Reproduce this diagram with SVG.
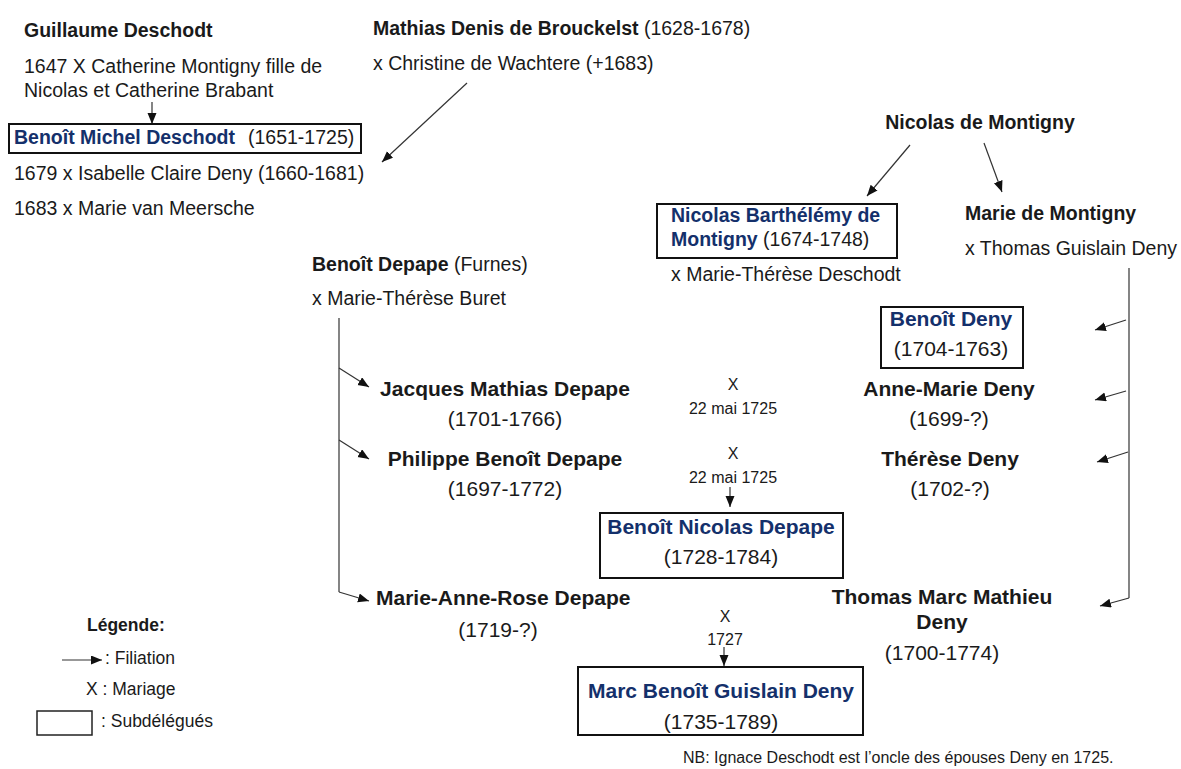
<svg xmlns="http://www.w3.org/2000/svg" width="1181" height="769" viewBox="0 0 1181 769">
<defs>
<marker id="ah" markerUnits="userSpaceOnUse" markerWidth="12" markerHeight="10" refX="11" refY="4.5" orient="auto">
<path d="M0,0 L11,4.5 L0,9 z" fill="#111"/>
</marker>
<style>
text{font-family:"Liberation Sans",Arial,sans-serif;fill:#1a1a1a}
.b{font-weight:bold}
.n{fill:#14306b;font-weight:bold}
.s{font-size:19.5px}
.m{font-size:21px}
.c{text-anchor:middle}
.sm{font-size:16px}
.lg{font-size:17.5px}
.box{fill:none;stroke:#111;stroke-width:2}
.ln{fill:none;stroke:#333;stroke-width:1.2}
.ar{fill:none;stroke:#333;stroke-width:1.2;marker-end:url(#ah)}
</style>
</defs>
<rect width="1181" height="769" fill="#fff"/>

<g id="connectors">
<line class="ar" x1="152" y1="102" x2="152" y2="124"/>
<line class="ar" x1="467" y1="83" x2="382" y2="162"/>
<line class="ar" x1="910" y1="145" x2="867" y2="196"/>
<line class="ar" x1="984" y1="143" x2="1002" y2="192"/>
<polyline class="ln" points="1129,268 1129,598"/>
<line class="ar" x1="1126" y1="320" x2="1095" y2="330"/>
<line class="ar" x1="1126" y1="391" x2="1095" y2="400"/>
<line class="ar" x1="1128" y1="452" x2="1097" y2="462"/>
<line class="ar" x1="1129" y1="598" x2="1100" y2="606"/>
<polyline class="ln" points="339,318 339,592"/>
<line class="ar" x1="339" y1="368" x2="369" y2="387"/>
<line class="ar" x1="339" y1="440" x2="369" y2="459"/>
<line class="ar" x1="339" y1="592" x2="369" y2="601"/>
<line class="ar" x1="730" y1="487" x2="730" y2="507"/>
<line class="ar" x1="724" y1="647" x2="724" y2="666"/>
</g>

<g id="guillaume">
<text class="b s" x="24" y="37">Guillaume Deschodt</text>
<text class="s" x="24" y="73">1647 X Catherine Montigny fille de</text>
<text class="s" x="24" y="97">Nicolas et Catherine Brabant</text>
</g>

<g id="benoit-michel">
<rect class="box" x="9" y="124" width="352" height="29"/>
<text class="s" x="14" y="144"><tspan class="n">Benoît Michel Deschodt</tspan><tspan x="248">(1651-1725)</tspan></text>
<text class="s" x="14" y="180">1679 x Isabelle Claire Deny (1660-1681)</text>
<text class="s" x="14" y="215">1683 x Marie van Meersche</text>
</g>

<g id="mathias">
<text class="s" x="373" y="35"><tspan class="b">Mathias Denis de Brouckelst</tspan> (1628-1678)</text>
<text class="s" x="373" y="70">x Christine de Wachtere (+1683)</text>
</g>

<g id="nicolas">
<text class="b s c" x="980" y="129">Nicolas de Montigny</text>
</g>

<g id="nicolas-barthelemy">
<rect class="box" x="657" y="204" width="240" height="54"/>
<text class="s n" x="671" y="222">Nicolas Barthélémy de</text>
<text class="s" x="671" y="246"><tspan class="n">Montigny</tspan> (1674-1748)</text>
<text class="s" x="671" y="281">x Marie-Thérèse Deschodt</text>
</g>

<g id="marie-montigny">
<text class="b s" x="965" y="220">Marie de Montigny</text>
<text class="s" x="965" y="255">x Thomas Guislain Deny</text>
</g>

<g id="benoit-depape">
<text class="s" x="312" y="271"><tspan class="b">Benoît Depape</tspan> (Furnes)</text>
<text class="s" x="312" y="305">x Marie-Thérèse Buret</text>
</g>

<g id="benoit-deny">
<rect class="box" x="881" y="307" width="142" height="61"/>
<text class="m n c" x="951" y="326">Benoît Deny</text>
<text class="m c" x="951" y="356">(1704-1763)</text>
</g>

<g id="jacques">
<text class="m b c" x="505" y="396">Jacques Mathias Depape</text>
<text class="m c" x="505" y="426">(1701-1766)</text>
</g>

<g id="mariage1">
<text class="sm c" x="733" y="390">X</text>
<text class="sm c" x="733" y="414">22 mai 1725</text>
</g>

<g id="anne-marie">
<text class="m b c" x="949" y="396">Anne-Marie Deny</text>
<text class="m c" x="949" y="426">(1699-?)</text>
</g>

<g id="philippe">
<text class="m b c" x="505" y="466">Philippe Benoît Depape</text>
<text class="m c" x="505" y="496">(1697-1772)</text>
</g>

<g id="mariage2">
<text class="sm c" x="733" y="459">X</text>
<text class="sm c" x="733" y="483">22 mai 1725</text>
</g>

<g id="therese">
<text class="m b c" x="950" y="466">Thérèse Deny</text>
<text class="m c" x="950" y="496">(1702-?)</text>
</g>

<g id="benoit-nicolas">
<rect class="box" x="600" y="513" width="243" height="65"/>
<text class="m n c" x="721" y="534">Benoît Nicolas Depape</text>
<text class="m c" x="721" y="564">(1728-1784)</text>
</g>

<g id="marie-anne-rose">
<text class="m b" x="376" y="605">Marie-Anne-Rose Depape</text>
<text class="m c" x="498" y="637">(1719-?)</text>
</g>

<g id="mariage3">
<text class="sm c" x="725" y="622">X</text>
<text class="sm c" x="725" y="645">1727</text>
</g>

<g id="thomas-marc">
<text class="m b c" x="942" y="604">Thomas Marc Mathieu</text>
<text class="m b c" x="942" y="629">Deny</text>
<text class="m c" x="942" y="660">(1700-1774)</text>
</g>

<g id="marc-benoit">
<rect class="box" x="578" y="667" width="285" height="68"/>
<text class="m n c" x="721" y="698">Marc Benoît Guislain Deny</text>
<text class="m c" x="721" y="729">(1735-1789)</text>
</g>

<g id="legende">
<text class="lg b" x="87" y="631">Légende:</text>
<line class="ar" x1="62" y1="660" x2="102" y2="660"/>
<text class="lg" x="105" y="664">: Filiation</text>
<text class="lg" x="86" y="695">X : Mariage</text>
<rect x="37" y="711" width="55" height="24" fill="none" stroke="#222" stroke-width="1.5"/>
<text class="lg" x="101" y="727">: Subdélégués</text>
</g>

<g id="nb">
<text x="683" y="763" style="font-size:16px">NB: Ignace Deschodt est l’oncle des épouses Deny en 1725.</text>
</g>
</svg>
